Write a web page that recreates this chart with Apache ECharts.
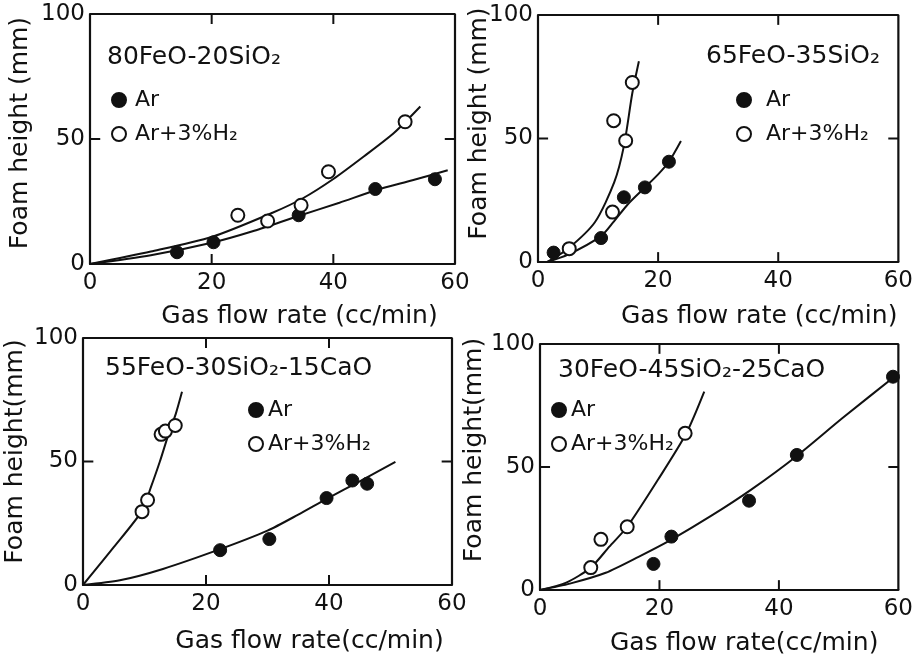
<!DOCTYPE html>
<html>
<head>
<meta charset="utf-8">
<script src="https://cdn.jsdelivr.net/npm/echarts@6/dist/echarts.min.js"></script>
<style>
  html, body { margin: 0; padding: 0; background: #fff; }
  #chart { width: 916px; height: 658px; }
</style>
</head>
<body>
<div id="chart"></div>
<script>
// Foam height vs. gas flow rate for four slag compositions, Ar and Ar+3%H2.

const panelTitles = ['80FeO-20SiO₂', '65FeO-35SiO₂', '55FeO-30SiO₂-15CaO', '30FeO-45SiO₂-25CaO'];
const seriesNames = ['Ar', 'Ar+3%H₂'];
const xTickValues = [0, 20, 40, 60];
const yTickValues = [0, 50, 100];
const xTitles = ['Gas flow rate (cc/min)', 'Gas flow rate (cc/min)', 'Gas flow rate(cc/min)', 'Gas flow rate(cc/min)'];
const yTitles = ['Foam height (mm)', 'Foam height (mm)', 'Foam height(mm)', 'Foam height(mm)'];

// 80FeO-20SiO2
const p1ArX = [14.3, 20.3, 34.3, 46.9, 56.7];
const p1ArY = [4.7, 8.7, 19.5, 30.0, 33.9];
const p1H2X = [24.3, 29.2, 34.7, 39.2, 51.8];
const p1H2Y = [19.5, 17.2, 23.5, 36.9, 56.9];
const p1ArFitX = [0, 10, 20, 27, 34, 41, 47, 53, 58.8];
const p1ArFitY = [0, 3.5, 8.5, 13.3, 19, 24.5, 29.5, 33.5, 37.5];
const p1H2FitX = [0, 10, 20, 30, 35, 40, 45, 50, 54.3];
const p1H2FitY = [0, 5, 10.8, 20.5, 26.3, 34, 43, 52.5, 63];

// 65FeO-35SiO2
const p2ArX = [2.6, 10.5, 14.3, 17.8, 21.8];
const p2ArY = [3.8, 9.7, 26.2, 30.2, 40.6];
const p2H2X = [5.2, 12.4, 12.6, 14.6, 15.7];
const p2H2Y = [5.4, 20.2, 57.2, 49.1, 72.7];
const p2ArFitX = [1.5, 5, 10.5, 12.5, 15, 17.8, 20, 21.8, 23.8];
const p2ArFitY = [0, 3, 10.5, 16, 23.5, 30.2, 35.5, 40.6, 49];
const p2H2FitX = [1.5, 5, 9.5, 12.7, 14.3, 15.7, 16.8];
const p2H2FitY = [0, 5.4, 16.2, 32.3, 46.9, 68.3, 81.3];

// 55FeO-30SiO2-15CaO
const p3ArX = [22.3, 30.3, 39.6, 43.8, 46.2];
const p3ArY = [14.1, 18.6, 35.2, 42.3, 41.0];
const p3H2X = [9.6, 10.5, 12.7, 13.4, 15.0];
const p3H2Y = [29.7, 34.4, 61.0, 62.3, 64.6];
const p3ArFitX = [0, 6, 13, 22.3, 30, 35, 39.7, 45, 50.8];
const p3ArFitY = [0, 1.9, 6.5, 14.5, 22, 28.5, 35, 42, 49.8];
const p3H2FitX = [0, 5, 9.6, 11, 12.5, 13.9, 15.1, 16.1];
const p3H2FitY = [0, 15.3, 30, 39.3, 50, 61, 69.4, 78.2];

// 30FeO-45SiO2-25CaO
const p4ArX = [19.0, 22.0, 35.0, 43.0, 59.1];
const p4ArY = [10.6, 21.7, 36.3, 54.9, 86.7];
const p4H2X = [8.5, 10.2, 14.6, 24.3];
const p4H2Y = [9.1, 20.6, 25.7, 63.7];
const p4ArFitX = [0, 5, 11, 16.5, 22, 28.7, 35.3, 43, 50.7, 60];
const p4ArFitY = [0, 2.6, 7, 13.5, 20.5, 30.2, 40.7, 54.5, 70, 88];
const p4H2FitX = [0, 4.4, 8.5, 11.6, 14.6, 19.8, 24.5, 27.5];
const p4H2FitY = [0, 3, 9.1, 17.6, 25.7, 45, 63.7, 80.6];

const panels = [
  { ar: [p1ArX, p1ArY], h2: [p1H2X, p1H2Y], arFit: [p1ArFitX, p1ArFitY], h2Fit: [p1H2FitX, p1H2FitY] },
  { ar: [p2ArX, p2ArY], h2: [p2H2X, p2H2Y], arFit: [p2ArFitX, p2ArFitY], h2Fit: [p2H2FitX, p2H2FitY] },
  { ar: [p3ArX, p3ArY], h2: [p3H2X, p3H2Y], arFit: [p3ArFitX, p3ArFitY], h2Fit: [p3H2FitX, p3H2FitY] },
  { ar: [p4ArX, p4ArY], h2: [p4H2X, p4H2Y], arFit: [p4ArFitX, p4ArFitY], h2Fit: [p4H2FitX, p4H2FitY] }
];

// layout of the 2x2 panels
const grids = [
  { left: 90, right: 461, top: 14, bottom: 394 },
  { left: 538, right: 13, top: 15, bottom: 396 },
  { left: 83, right: 464, top: 338, bottom: 73 },
  { left: 540, right: 13, top: 344, bottom: 68 }
];
const titlePos = [
  { left: 107, top: 45 }, { left: 706, top: 44 }, { left: 105, top: 356 }, { left: 558, top: 358 }
];
const legendPos = [
  { left: 111, top: 89, textGap: 4 }, { left: 736, top: 89, textGap: 10 },
  { left: 248, top: 399, textGap: 0 }, { left: 551, top: 399, textGap: 0 }
];
const xNameShift = [27, 41, 42, 25];
const xNameGap = [40, 42, 44, 41];
const yNameShift = [6, 15, 10, 17];
const yNameGap = [57, 46, 55, 53];

const FONT = 'DejaVu Sans';
const INK = '#111';
// inward tick length as a share of the crossing axis' range (about 10 px)
const X_TICK_SHARE = 0.04;   // ticks on the horizontal edges, in y units
const Y_TICK_SHARE = 0.028;  // ticks on the vertical edges, in x units

const xAxes = [], yAxes = [], series = [], titles = [], legends = [];

function pairs(xs, ys) { return xs.map((x, i) => [x, ys[i]]); }

const xMin = xTickValues[0], xMax = xTickValues[xTickValues.length - 1];
const yMin = yTickValues[0], yMax = yTickValues[yTickValues.length - 1];
const xTickLen = (yMax - yMin) * X_TICK_SHARE;
const yTickLen = (xMax - xMin) * Y_TICK_SHARE;

// frame edges and inward tick segments, all in axis coordinates
function frameSegments() {
  const segs = [];
  segs.push([[xMin, yMax], [xMax, yMax], [xMax, yMin]]);           // top and right edges
  xTickValues.slice(1, -1).forEach(v => {
    segs.push([[v, yMin], [v, yMin + xTickLen]]);                   // bottom tick
    segs.push([[v, yMax], [v, yMax - xTickLen]]);                   // top tick
  });
  yTickValues.slice(1, -1).forEach(v => {
    segs.push([[xMin, v], [xMin + yTickLen, v]]);                   // left tick
    segs.push([[xMax, v], [xMax - yTickLen, v]]);                   // right tick
  });
  return segs;
}

panels.forEach((p, g) => {
  xAxes.push({
    gridIndex: g, type: 'value', min: xMin, max: xMax,
    interval: xTickValues[1] - xTickValues[0],
    axisLine: { show: true, onZero: false, lineStyle: { color: INK, width: 2.2 } },
    axisTick: { show: false },
    splitLine: { show: false },
    axisLabel: { color: INK, fontFamily: FONT, fontSize: 23, margin: 8 },
    name: xTitles[g], nameLocation: 'middle', nameGap: xNameGap[g], nameMoveOverlap: false,
    nameTextStyle: { color: INK, fontFamily: FONT, fontSize: 25, padding: [0, 0, 0, 2 * xNameShift[g]] }
  });
  yAxes.push({
    gridIndex: g, type: 'value', min: yMin, max: yMax,
    interval: yTickValues[1] - yTickValues[0],
    axisLine: { show: true, onZero: false, lineStyle: { color: INK, width: 2.2 } },
    axisTick: { show: false },
    splitLine: { show: false },
    axisLabel: { color: INK, fontFamily: FONT, fontSize: 23, margin: 5 },
    name: yTitles[g], nameLocation: 'middle', nameGap: yNameGap[g], nameMoveOverlap: false,
    nameTextStyle: { color: INK, fontFamily: FONT, fontSize: 25, padding: [0, 0, 0, 2 * yNameShift[g]] }
  });

  frameSegments().forEach((seg, k) => {
    series.push({
      name: 'frame ' + g + '-' + k, type: 'line', xAxisIndex: g, yAxisIndex: g,
      showSymbol: false, silent: true, clip: false, smooth: false,
      lineStyle: { color: INK, width: k === 0 ? 2.2 : 2 }, data: seg, z: 1
    });
  });

  series.push({
    name: 'Ar fit ' + g, type: 'line', xAxisIndex: g, yAxisIndex: g, smooth: 0.25,
    showSymbol: false, silent: true, lineStyle: { color: INK, width: 2 },
    data: pairs(p.arFit[0], p.arFit[1]), z: 2
  });
  series.push({
    name: 'H2 fit ' + g, type: 'line', xAxisIndex: g, yAxisIndex: g, smooth: 0.25,
    showSymbol: false, silent: true, lineStyle: { color: INK, width: 2 },
    data: pairs(p.h2Fit[0], p.h2Fit[1]), z: 2
  });
  series.push({
    name: seriesNames[0], type: 'scatter', xAxisIndex: g, yAxisIndex: g,
    symbol: 'circle', symbolSize: 13,
    itemStyle: { color: INK, borderColor: INK, borderWidth: 1, opacity: 1 },
    data: pairs(p.ar[0], p.ar[1]), z: 4
  });
  series.push({
    name: seriesNames[1], type: 'scatter', xAxisIndex: g, yAxisIndex: g,
    symbol: 'circle', symbolSize: 13,
    itemStyle: { color: '#fff', borderColor: INK, borderWidth: 2, opacity: 1 },
    data: pairs(p.h2[0], p.h2[1]), z: 5
  });

  titles.push({
    text: panelTitles[g], left: titlePos[g].left, top: titlePos[g].top, padding: 0,
    textStyle: { color: INK, fontFamily: FONT, fontSize: 25, fontWeight: 'normal' }
  });
  legends.push({
    data: seriesNames, orient: 'vertical', left: legendPos[g].left, top: legendPos[g].top,
    padding: 0, itemGap: 12, itemWidth: 14, itemHeight: 14, selectedMode: false,
    textStyle: { color: INK, fontFamily: FONT, fontSize: 22, padding: [0, 0, 0, legendPos[g].textGap] }
  });
});

const chart = echarts.init(document.getElementById('chart'), null, { renderer: 'canvas' });
chart.setOption({
  backgroundColor: '#fff',
  animation: false,
  title: titles,
  legend: legends,
  grid: grids,
  xAxis: xAxes,
  yAxis: yAxes,
  series
});
</script>
</body>
</html>
